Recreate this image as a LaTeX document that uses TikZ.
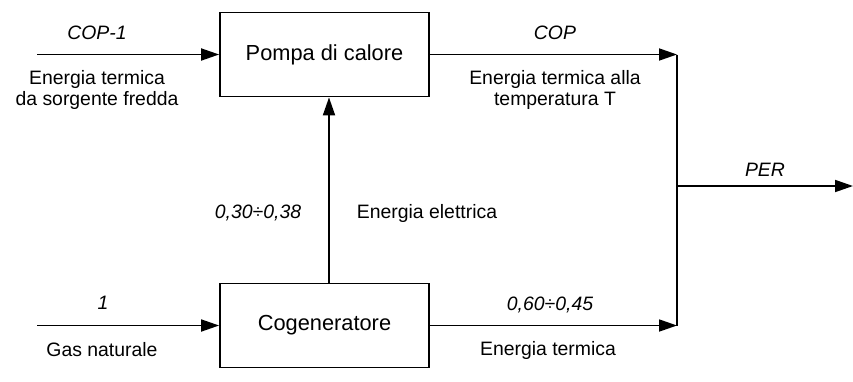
\documentclass[tikz,border=0pt]{standalone}
\usepackage{fontspec}
\setmainfont{Liberation Sans}
\usetikzlibrary{positioning}
\usetikzlibrary{arrows.meta}

\begin{document}
\begin{tikzpicture}[x=0.5pt, y=-0.5pt,
    blk/.style={draw, rectangle, line width=0.9pt, minimum width=104.5pt, minimum height=42pt, font=\fontsize{10.9}{12}\selectfont},
    lbl/.style={font=\fontsize{9.7}{10.2}\selectfont, align=center, inner sep=0pt},
    val/.style={font=\fontsize{9.7}{10.2}\selectfont\itshape, inner sep=0pt},
    flow/.style={-{Triangle[length=9pt, width=6pt]}, line width=0.9pt}]
    \useasboundingbox (0,0) rectangle (853,381);

    % Blocks
    \node (hp) [blk] at (324.5,54.5) {Pompa di calore};
    \node (chp) [blk] at (324.5,325.5) {Cogeneratore};

    % Free ends of the inputs and collector
    \coordinate (inA) at (37,54.5);
    \coordinate (inB) at (37,325.5);
    \coordinate (jt) at (677,54.5);
    \coordinate (jm) at (677,186);
    \coordinate (jb) at (677,325.5);
    \coordinate (outP) at (853,186);

    % Inputs
    \draw[flow] (inA) -- (hp.west);
    \draw[flow] (inB) -- (chp.west);

    % Electricity from CHP to heat pump
    \draw[flow] ([xshift=2.25pt]chp.north) -- ([xshift=2.25pt]hp.south);

    % Outputs to collector
    \draw[flow] (hp.east) -- (jt);
    \draw[flow] (chp.east) -- (jb);
    \draw[line width=0.9pt] (jt) -- (jb);
    \draw[flow] (jm) -- (outP);

    % Values
    \node (vA) [val] at (97,33) {COP-1};
    \node (vB) [val] at (103,303) {1};
    \node (vE) [val] at (258,213) {0,30÷0,38};
    \node (vC) [val] at (555,33) {COP};
    \node (vT) [val] at (550,305) {0,60÷0,45};
    \node (vP) [val] at (765,170) {PER};

    % Descriptions
    \node (dA) [lbl] at (97,90) {Energia termica\\da sorgente fredda};
    \node (dB) [lbl] at (102,350) {Gas naturale};
    \node (dE) [lbl] at (427,213) {Energia elettrica};
    \node (dC) [lbl] at (555,90) {Energia termica alla\\temperatura T};
    \node (dT) [lbl] at (548,350) {Energia termica};
\end{tikzpicture}
\end{document}
